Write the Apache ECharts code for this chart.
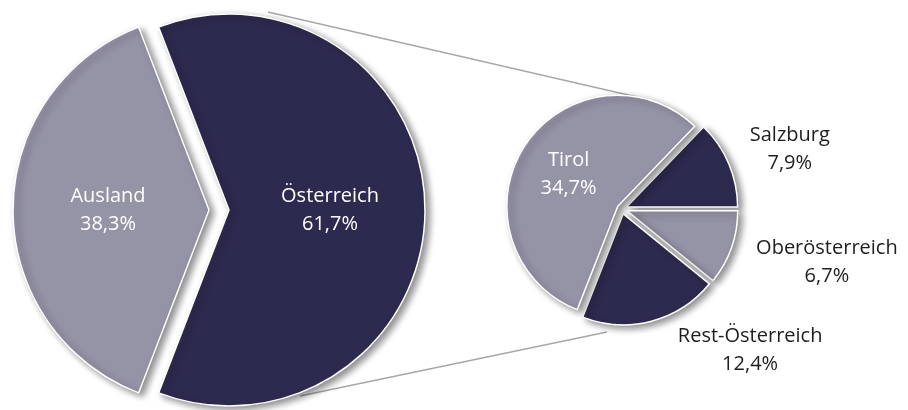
<!DOCTYPE html>
<html>
<head>
<meta charset="utf-8">
<script src="https://cdn.jsdelivr.net/npm/echarts@6/dist/echarts.min.js"></script>
<style>
  html, body { margin: 0; padding: 0; background: #fff; }
  #chart { width: 908px; height: 410px; }
</style>
</head>
<body>
<div id="chart"></div>
<script>
// Anteil Gäste: Österreich / Ausland, Österreich aufgeteilt nach Herkunft
const mainNames = ['Österreich', 'Ausland']
const mainValues = [61.7, 38.3]
const subNames = ['Salzburg', 'Oberösterreich', 'Rest-Österreich', 'Tirol']
const subValues = [7.9, 6.7, 12.4, 34.7]

const dark = '#2d2a4f'
const light = '#9593a6'
const font = '"Open Sans", "Noto Sans", sans-serif'

const chart = echarts.init(document.getElementById('chart'))

const sum = arr => arr.reduce((a, b) => a + b, 0)
const fmt = p => p.name + '\n' + p.value.toFixed(1).replace('.', ',') + '%'

const sliceStyle = {
  borderColor: '#fff',
  borderWidth: 1.5,
  shadowColor: 'rgba(0,0,0,0.45)',
  shadowBlur: 7,
  shadowOffsetX: 4,
  shadowOffsetY: 3
}

// Position der Außenbeschriftungen (Länge der unsichtbaren Führungslinie)
const subLabelLines = [
  { length: 37, length2: 22 },
  { length: 42, length2: 51 },
  { length: 30, length2: 86 },
  { length: 10, length2: 10 }
]

const mainData = mainNames.map((name, i) => ({
  name: name,
  value: mainValues[i],
  selected: true,
  itemStyle: { color: i === 0 ? dark : light }
}))

const subData = subNames.map((name, i) => ({
  name: name,
  value: subValues[i],
  selected: true,
  itemStyle: { color: i % 2 === 0 ? dark : light },
  label: name === 'Tirol'
    ? { position: 'inside', color: '#fff' }
    : { position: 'outside', color: '#1e1e1e' },
  labelLine: Object.assign({ show: false }, subLabelLines[i])
}))

const option = {
  animation: false,
  graphic: [
    {
      type: 'line',
      z: -1,
      shape: { x1: 268, y1: 12, x2: 637, y2: 97 },
      style: { stroke: '#a8a8a8', lineWidth: 1.5 }
    },
    {
      type: 'line',
      z: -1,
      shape: { x1: 300, y1: 396, x2: 607, y2: 332 },
      style: { stroke: '#a8a8a8', lineWidth: 1.5 }
    }
  ],
  series: [
    {
      type: 'pie',
      center: [219, 210],
      radius: 196,
      startAngle: mainValues[0] / sum(mainValues) * 180,
      clockwise: true,
      selectedMode: 'multiple',
      selectedOffset: 10,
      avoidLabelOverlap: false,
      emphasis: { disabled: true },
      itemStyle: sliceStyle,
      label: {
        position: 'inside',
        formatter: fmt,
        color: '#fff',
        fontFamily: font,
        fontSize: 20,
        lineHeight: 28
      },
      labelLine: { show: false },
      data: mainData
    },
    {
      type: 'pie',
      center: [622, 209],
      radius: 111,
      startAngle: subValues[0] / sum(subValues) * 360,
      clockwise: true,
      selectedMode: 'multiple',
      selectedOffset: 5,
      avoidLabelOverlap: false,
      emphasis: { disabled: true },
      itemStyle: sliceStyle,
      label: {
        formatter: fmt,
        fontFamily: font,
        fontSize: 20,
        lineHeight: 28,
        distanceToLabelLine: 5
      },
      labelLayout: { align: 'center' },
      data: subData
    }
  ]
}

chart.setOption(option)
</script>
</body>
</html>
